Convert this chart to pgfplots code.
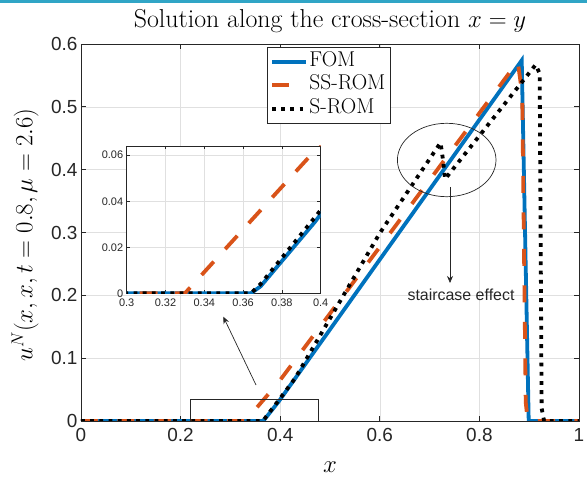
\documentclass[border=0pt]{standalone}
\usepackage{pgfplots}
\pgfplotsset{compat=1.18}
\usepackage{pgfplotstable}
\usetikzlibrary{arrows.meta}
\usepackage{fontspec}
\newfontfamily\helv{Liberation Sans}
\definecolor{mblue}{rgb}{0,0.447,0.741}
\definecolor{morange}{rgb}{0.85,0.325,0.098}
\definecolor{topbar}{RGB}{48,165,198}
\definecolor{axgray}{rgb}{0.15,0.15,0.15}
\newcommand{\legfont}{\fontsize{21.5}{23}\selectfont}

\pgfplotstableread{
x y
0 0
0.364 0
0.369 0.003
0.397 0.031
0.6 0.257
0.885 0.574
0.899 0
1 0
}\fom
\pgfplotstableread{
x y
0 0
0.33 0
0.397 0.062
0.6 0.277
0.877 0.572
0.886 0.52
0.893 0.03
0.897 0
1 0
}\ssrom
\pgfplotstableread{
x y
0 0
0.364 0
0.369 0.004
0.397 0.033
0.43 0.068
0.6 0.299
0.722 0.443
0.727 0.415
0.731 0.385
0.913 0.567
0.921 0.553
0.925 0.02
0.93 0
1 0
}\srom

\begin{document}
\begin{tikzpicture}
\begin{axis}[
  at={(0,0)}, anchor=south west, scale only axis,
  width=498bp, height=377bp,
  xmin=0, xmax=1, ymin=0, ymax=0.6,
  xtick={0,0.2,0.4,0.6,0.8,1}, xticklabels={0,0.2,0.4,0.6,0.8,1},
  ytick={0,0.1,0.2,0.3,0.4,0.5,0.6}, yticklabels={0,0.1,0.2,0.3,0.4,0.5,0.6},
  tick align=inside, major tick length=5bp,
  grid=major, grid style={color=black!12, line width=0.6bp},
  axis line style={color=axgray, line width=0.7bp},
  tick style={color=axgray, line width=0.7bp},
  ticklabel style={font=\helv\fontsize{19}{19}\selectfont, color=axgray},
  xticklabel style={yshift=-4bp},
  legend style={at={(0.373,0.993)}, anchor=north west, draw=axgray, line width=0.7bp,
    inner sep=3bp, row sep=0bp,
    nodes={inner sep=1.5bp, text height=15bp, text depth=5.5bp},
    /tikz/every even column/.append style={column sep=2bp}},
  legend cell align=left,
  legend image code/.code={\draw[#1] (0bp,0bp) -- (34bp,0bp);},
]
\addplot[mblue, line width=3.8bp] table {\fom};
\addlegendentry{\legfont FOM}
\addplot[morange, line width=3.8bp, dash pattern=on 17bp off 19.5bp] table {\ssrom};
\addlegendentry{\legfont SS-ROM}
\addplot[black, line width=3.8bp, line cap=butt, dash pattern=on 3.8bp off 5.4bp] table {\srom};
\addlegendentry{\legfont S-ROM}
\draw[axgray, line width=0.7bp] (axis cs:0.219,-0.001) rectangle (axis cs:0.476,0.035);
\end{axis}
\begin{axis}[
  at={(45.7bp,127.7bp)}, anchor=south west, scale only axis,
  width=194bp, height=147.3bp,
  xmin=0.3, xmax=0.4, ymin=0, ymax=0.064,
  scaled x ticks=false, scaled y ticks=false,
  xtick={0.3,0.32,0.34,0.36,0.38,0.4}, xticklabels={0.3,0.32,0.34,0.36,0.38,0.4},
  ytick={0,0.02,0.04,0.06}, yticklabels={0,0.02,0.04,0.06},
  tick align=inside, major tick length=3.5bp,
  grid=major, grid style={color=black!12, line width=0.6bp},
  axis background/.style={fill=white},
  axis line style={color=axgray, line width=0.7bp},
  tick style={color=axgray, line width=0.7bp},
  ticklabel style={font=\helv\fontsize{11}{11}\selectfont, color=axgray},
  xticklabel style={yshift=-2.5bp},
]
\addplot[mblue, line width=3.8bp] table {\fom};
\addplot[morange, line width=3.8bp, dash pattern=on 18bp off 17bp] table {\ssrom};
\addplot[black, line width=3.8bp, line cap=butt, dash pattern=on 3.8bp off 5.4bp] table {\srom};
\end{axis}
% annotations
\draw[axgray, line width=0.7bp] (365.7bp,261bp) ellipse [x radius=49.3bp, y radius=36.7bp];
\draw[axgray, line width=0.7bp, -{Stealth[length=7bp,width=6bp]}] (369bp,234bp) -- (369bp,138bp);
\node[font=\helv\fontsize{16}{16}\selectfont, color=axgray] at (380bp,126bp) {staircase effect};
\draw[axgray, line width=0.7bp, -{Stealth[length=7bp,width=6bp]}] (175bp,36bp) -- (142.3bp,104.3bp);
% titles
\node[anchor=base, font=\fontsize{26}{28}\selectfont] at (249bp,393bp) {Solution along the cross-section $x=y$};
\node[rotate=90, font=\fontsize{26}{28}\selectfont] at (-56bp,186bp) {$u^N(x,x,t=0.8,\mu=2.6)$};
\node[font=\fontsize{26}{28}\selectfont] at (249bp,-46bp) {$x$};
\fill[topbar] (-81bp,418bp) rectangle (506bp,421bp);
\pgfresetboundingbox
\path[use as bounding box] (-81bp,-58bp) rectangle (506bp,421bp);
\end{tikzpicture}
\end{document}
